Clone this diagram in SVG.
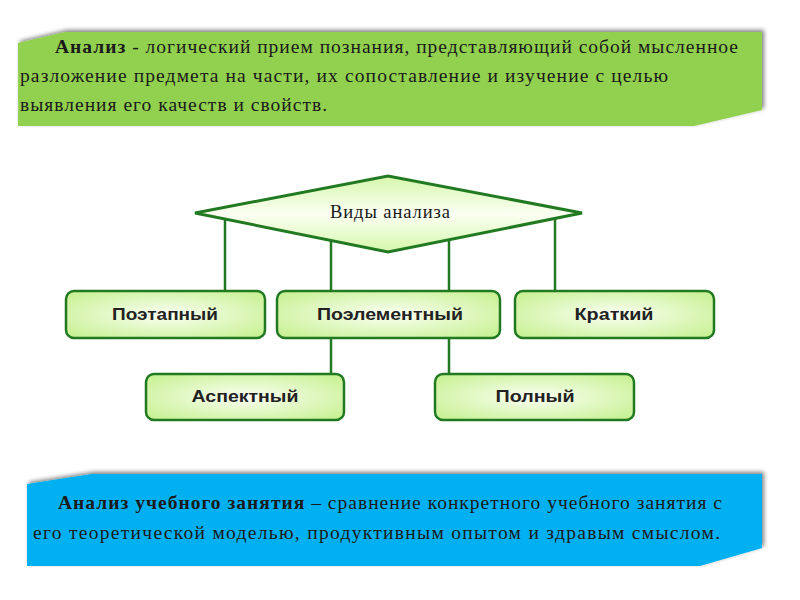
<svg xmlns="http://www.w3.org/2000/svg" width="800" height="600" viewBox="0 0 800 600">
<defs>
<filter id="sh" x="-5%" y="-20%" width="110%" height="140%">
<feGaussianBlur in="SourceAlpha" stdDeviation="2"/>
<feOffset dx="2" dy="-2"/>
<feComponentTransfer><feFuncA type="linear" slope="0.5"/></feComponentTransfer>
<feMerge><feMergeNode/><feMergeNode in="SourceGraphic"/></feMerge>
</filter>
<radialGradient id="bg" cx="0.5" cy="0.5" r="0.7">
<stop offset="0" stop-color="#fbfff4"/>
<stop offset="1" stop-color="#c4f08c"/>
</radialGradient>
<linearGradient id="dg" x1="0" y1="0" x2="0" y2="1">
<stop offset="0" stop-color="#d6f7ab"/>
<stop offset="0.5" stop-color="#fbfff3"/>
<stop offset="1" stop-color="#d6f7ab"/>
</linearGradient>
<style>
.ser{font-family:"Liberation Serif","DejaVu Serif",serif;fill:#1a1a1a;font-size:19.5px}
.box{fill:url(#bg);stroke:#217a21;stroke-width:2.5}
.lbl{font-family:"Liberation Sans",Arial,sans-serif;font-weight:bold;font-size:17px;fill:#222;text-anchor:middle}
.con{stroke:#217a21;stroke-width:2.5;fill:none}
</style>
</defs>
<rect width="800" height="600" fill="#fff"/>
<g id="banner-top">
<polygon points="18,43 65,32 762,32 762,110 694,126 18,126" fill="#92d050" filter="url(#sh)"/>
<text class="ser" x="55" y="53" textLength="683" lengthAdjust="spacing"><tspan font-weight="bold">Анализ</tspan> - логический прием познания, представляющий собой мысленное</text>
<text class="ser" x="20" y="82" textLength="648" lengthAdjust="spacing">разложение предмета на части, их сопоставление и изучение с целью</text>
<text class="ser" x="20" y="111" textLength="307" lengthAdjust="spacing">выявления его качеств и свойств.</text>
</g>
<g id="connectors">
<line class="con" x1="225" y1="219" x2="225" y2="291"/>
<line class="con" x1="331" y1="240" x2="331" y2="291"/>
<line class="con" x1="449" y1="240" x2="449" y2="291"/>
<line class="con" x1="555" y1="218" x2="555" y2="291"/>
<line class="con" x1="331" y1="338" x2="331" y2="374"/>
<line class="con" x1="449" y1="338" x2="449" y2="374"/>
</g>
<g id="diamond">
<polygon points="195,213 388,176 582,213 388,252" fill="url(#dg)" stroke="#217a21" stroke-width="3"/>
<text class="ser" style="font-size:18.5px" x="330" y="218" textLength="120" lengthAdjust="spacing">Виды анализа</text>
</g>
<g id="n-poetapny">
<rect class="box" x="66" y="291" width="199" height="47" rx="8"/>
<text class="lbl" x="165" y="320" textLength="106" lengthAdjust="spacingAndGlyphs">Поэтапный</text>
</g>
<g id="n-poelementny">
<rect class="box" x="277" y="291" width="223" height="47" rx="8"/>
<text class="lbl" x="390" y="320" textLength="146" lengthAdjust="spacingAndGlyphs">Поэлементный</text>
</g>
<g id="n-kratky">
<rect class="box" x="515" y="291" width="199" height="47" rx="8"/>
<text class="lbl" x="614" y="320" textLength="79" lengthAdjust="spacingAndGlyphs">Краткий</text>
</g>
<g id="n-aspektny">
<rect class="box" x="146" y="374" width="198" height="46" rx="8"/>
<text class="lbl" x="245" y="402" textLength="107" lengthAdjust="spacingAndGlyphs">Аспектный</text>
</g>
<g id="n-polny">
<rect class="box" x="435" y="374" width="199" height="46" rx="8"/>
<text class="lbl" x="535" y="402" textLength="79" lengthAdjust="spacingAndGlyphs">Полный</text>
</g>
<g id="banner-bottom">
<polygon points="27,484 92,474 762,474 762,548 700,566 27,566" fill="#00b0f0" filter="url(#sh)"/>
<text class="ser" x="58" y="509" textLength="664" lengthAdjust="spacing"><tspan font-weight="bold">Анализ учебного занятия</tspan> – сравнение конкретного учебного занятия с</text>
<text class="ser" x="33" y="539" textLength="687" lengthAdjust="spacing">его теоретической моделью, продуктивным опытом и здравым смыслом.</text>
</g>
</svg>
